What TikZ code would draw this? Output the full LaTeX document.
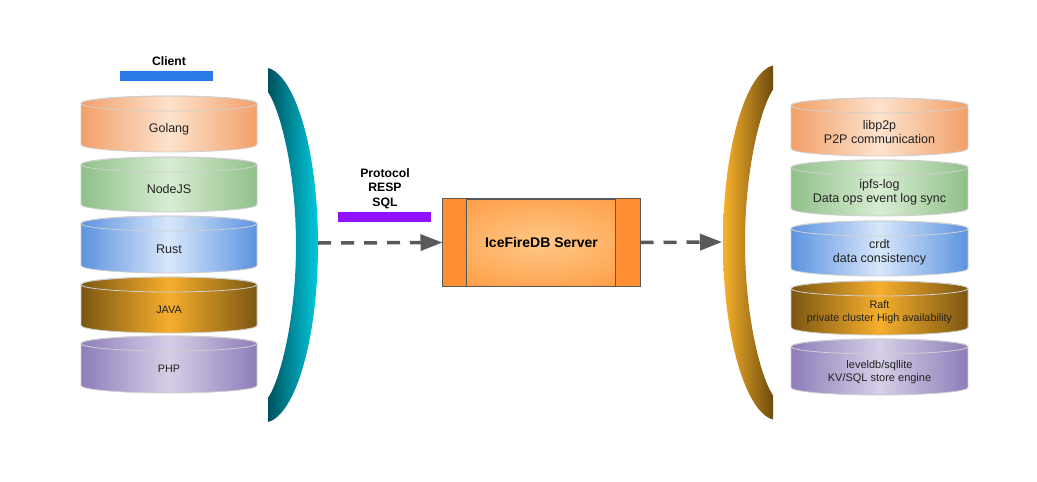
\documentclass[tikz,border=0pt]{standalone}
\usepackage{fontspec}
\setmainfont{Liberation Sans}
\usetikzlibrary{arrows.meta}
\definecolor{orE}{HTML}{F2A068}
\definecolor{orC}{HTML}{FDE2CD}
\definecolor{grE}{HTML}{8FC188}
\definecolor{grC}{HTML}{D8ECD3}
\definecolor{blE}{HTML}{5C93E0}
\definecolor{blC}{HTML}{D8E7FA}
\definecolor{goE}{HTML}{7C5712}
\definecolor{goC}{HTML}{F6AE2D}
\definecolor{puE}{HTML}{8E7DB9}
\definecolor{puC}{HTML}{D6CFE7}
\definecolor{cylline}{HTML}{CFCFCF}
\definecolor{tealD}{HTML}{00525E}
\definecolor{tealL}{HTML}{00CADE}
\definecolor{goldL}{HTML}{F8B22C}
\definecolor{goldD}{HTML}{6E4C0E}
\definecolor{srvC}{HTML}{FFC887}
\definecolor{srvE}{HTML}{FF8C2C}
\definecolor{srvS}{HTML}{FF8F32}
\definecolor{arrowgray}{HTML}{595959}
\definecolor{clientblue}{HTML}{2A7AE8}
\definecolor{protopurple}{HTML}{9012FE}
\definecolor{txt}{HTML}{222222}
\pgfdeclareradialshading{srvshade}{\pgfpoint{0bp}{0bp}}{color(0bp)=(srvC); color(45bp)=(srvE); color(70bp)=(srvE)}
\newcommand\dbcyl[6]{%
  \pgfmathsetmacro\cyt{-#3-7.5}%
  \pgfmathsetmacro\cyb{-#4+7.5}%
  \shade[left color=#5,right color=#5,middle color=#6,draw=cylline,line width=0.8pt]
    (#1-#2,\cyt) -- (#1-#2,\cyb) arc[start angle=180,end angle=360,x radius=#2,y radius=7.5]
    -- (#1+#2,\cyt) arc[start angle=0,end angle=180,x radius=#2,y radius=7.5] -- cycle;
  \draw[cylline,line width=0.8pt] (#1,\cyt) ellipse[x radius=#2,y radius=7.5];
}
\begin{document}
\begin{tikzpicture}[x=1pt,y=1pt,
  lbl/.style={text=txt,font=\fontsize{12.5}{14.5}\selectfont,align=center,inner sep=0pt},
  small/.style={text=txt,font=\fontsize{10.8}{12.8}\selectfont,align=center,inner sep=0pt},
  boldlbl/.style={text=black,font=\fontsize{12.2}{14.5}\selectfont\bfseries,align=center,inner sep=0pt},
  bar/.style={minimum width=93pt,minimum height=10pt,inner sep=0pt,draw=none},
  server/.style={draw=arrowgray,line width=1pt,shade,shading=srvshade,minimum width=197pt,minimum height=87pt,inner sep=0pt,font=\fontsize{14}{16}\selectfont\bfseries,text=black},
  dasharrow/.style={draw=arrowgray,line width=3.5pt,dash pattern=on 13pt off 10pt,-{Triangle[length=22pt,width=16pt]}}]
\useasboundingbox[fill=white] (0,0) rectangle (1037,-482);

% left cylinders
\dbcyl{169}{88}{96}{152}{orE}{orC}
\dbcyl{169}{88}{157}{212}{grE}{grC}
\dbcyl{169}{88}{216}{273}{blE}{blC}
\dbcyl{169}{88}{277}{333}{goE}{goC}
\dbcyl{169}{88}{336}{393}{puE}{puC}
\node[lbl] (golang) at (169,-129) {Golang};
\node[lbl] (nodejs) at (169,-189) {NodeJS};
\node[lbl] (rust) at (169,-249) {Rust};
\node[small] (java) at (169,-310) {JAVA};
\node[small] (php) at (169,-369) {PHP};

% right cylinders
\dbcyl{879.5}{88.5}{98}{156}{orE}{orC}
\dbcyl{879.5}{88.5}{160}{216}{grE}{grC}
\dbcyl{879.5}{88.5}{221}{276}{blE}{blC}
\dbcyl{879.5}{88.5}{281}{335}{goE}{goC}
\dbcyl{879.5}{88.5}{339}{395}{puE}{puC}
\node[lbl] (libp2p) at (879.5,-132) {libp2p\\P2P communication};
\node[lbl] (ipfslog) at (879.5,-192.5) {ipfs-log\\Data ops event log sync};
\node[lbl] (crdt) at (879.5,-252.5) {crdt\\data consistency};
\node[small] (raft) at (879.5,-312.5) {Raft\\private cluster High availability};
\node[small,font=\fontsize{11}{12.5}\selectfont] (leveldb) at (879.5,-372) {leveldb/sqllite\\KV/SQL store engine};

% brackets
\shade[left color=tealD,right color=tealL]
  (268,-68) .. controls (295,-75) and (318,-150) .. (318,-245)
  .. controls (318,-340) and (295,-415) .. (268,-422)
  -- (268,-398) .. controls (280,-380) and (296,-320) .. (296,-245)
  .. controls (296,-170) and (280,-110) .. (268,-92) -- cycle;
\shade[left color=goldL,right color=goldD]
  (773,-65.5) .. controls (746,-72.5) and (723,-147.5) .. (723,-242.5)
  .. controls (723,-337.5) and (746,-412.5) .. (773,-419.5)
  -- (773,-395.5) .. controls (761,-377.5) and (745,-317.5) .. (745,-242.5)
  .. controls (745,-167.5) and (761,-107.5) .. (773,-89.5) -- cycle;
\coordinate (lb) at (318,-243);
\coordinate (rb) at (722,-242);

% labels and bars
\node[boldlbl] (client) at (169,-61) {Client};
\node[bar,fill=clientblue] (cbar) at (166.5,-76) {};
\node[boldlbl] (proto) at (385,-188.5) {Protocol\\RESP\\SQL};
\node[bar,fill=protopurple] (pbar) at (384.5,-217) {};

% server
\node[server] (srv) at (541.5,-242.5) {IceFireDB Server};
\fill[srvS] (srv.north west) rectangle ([xshift=24pt]srv.south west);
\fill[srvS] ([xshift=-25pt]srv.north east) rectangle (srv.south east);
\draw[arrowgray,line width=1pt] (srv.north west) rectangle (srv.south east);
\draw[arrowgray,line width=1pt] ([xshift=24pt]srv.north west) -- ([xshift=24pt]srv.south west);
\draw[arrowgray,line width=1pt] ([xshift=-25pt]srv.north east) -- ([xshift=-25pt]srv.south east);

% connectors
\draw[dasharrow] (lb) -- (srv.west);
\draw[dasharrow] (srv.east) -- (rb);
\end{tikzpicture}
\end{document}
